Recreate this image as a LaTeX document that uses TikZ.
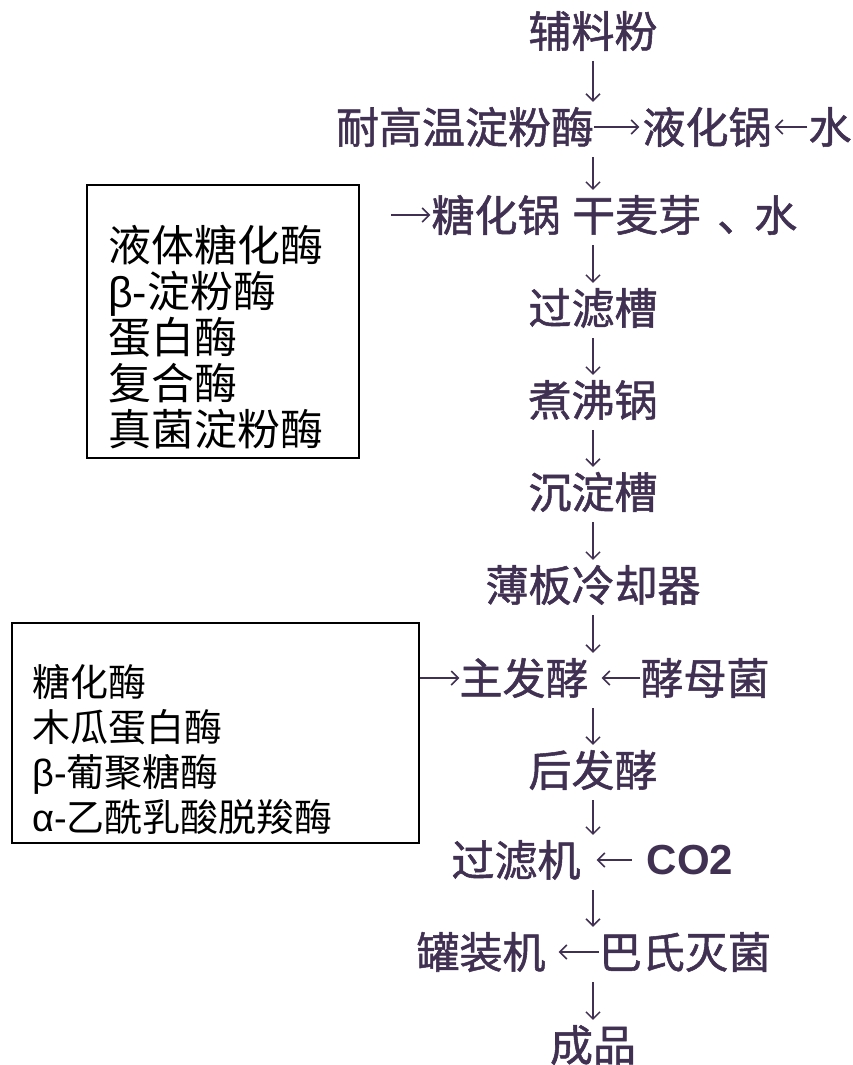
\documentclass[tikz,border=0pt]{standalone}
\usepackage{fontspec}
\setmainfont{Liberation Sans}
\newfontfamily\cjk{Noto Sans CJK SC}
\newfontfamily\cjkb[FakeBold=1.2]{Noto Sans CJK SC}
\usetikzlibrary{arrows.meta}
\definecolor{ink}{RGB}{64,48,82}
\begin{document}
\begin{tikzpicture}[x=1pt,y=-1pt,
  main/.style={inner sep=0pt,text=ink,font=\cjkb\fontsize{43}{46}\selectfont},
  latin/.style={inner sep=0pt,text=ink,font=\bfseries\fontsize{42}{46}\selectfont},
  boxframe/.style={draw=black,line width=1.6pt,inner sep=0pt},
  boxtext/.style={inner sep=0pt,anchor=west,align=left,text=black},
  arr/.style={draw=ink,line width=1.5pt,-{Straight Barb[length=7pt,width=14pt]}},
  varr/.style={arr,shorten <=10pt,shorten >=5pt}]
\useasboundingbox (0,0) rectangle (852,1065);
\fill[white] (0,0) rectangle (852,1065);
\coordinate (sp) at (593,0);
% spine rows
\node[main] (raw)  at (593,31)  {辅料粉};
\node[main] (enz)  at (465,127) {耐高温淀粉酶};
\node[main] (liq)  at (707,127) {液化锅};
\node[main] (w1)   at (830,127) {水};
\node[main] (sac)  at (496,215) {糖化锅};
\node[main,anchor=west] (malt) at (572,215) {干麦芽\hspace{16pt}、\hspace{-6pt}水};
\coordinate (sacin) at (391,215);
\node[main] (lau)  at (593,308) {过滤槽};
\node[main] (boil) at (593,400) {煮沸锅};
\node[main] (sed)  at (593,492) {沉淀槽};
\node[main] (cool) at (593,585) {薄板冷却器};
\node[main] (mf)   at (524,678) {主发酵};
\node[main] (yst)  at (705,678) {酵母菌};
\node[main] (sf)   at (593,770) {后发酵};
\node[main] (flt)  at (516,860) {过滤机};
\node[latin] (co2) at (690,860) {CO2};
\node[main] (can)  at (481,952) {罐装机};
\node[main] (past) at (685,952) {巴氏灭菌};
\node[main] (prod) at (593,1045) {成品};
% boxes
\node[boxframe,minimum width=272pt,minimum height=273pt] (box1) at (223,321.5) {};
\node[boxtext,font=\cjk\fontsize{43}{46}\selectfont] (b1t) at (108,337)
  {液体糖化酶\\{\fontspec{Liberation Sans}β-}淀粉酶\\蛋白酶\\复合酶\\真菌淀粉酶};
\node[boxframe,minimum width=407pt,minimum height=220pt] (box2) at (215.5,733) {};
\node[boxtext,font=\cjk\fontsize{38}{45}\selectfont] (b2t) at (32,750)
  {糖化酶\\木瓜蛋白酶\\{\fontspec{Liberation Sans}β-}葡聚糖酶\\{\fontspec{Liberation Sans}α-}乙酰乳酸脱羧酶};
% vertical flow
\draw[varr] (raw.south) -- (raw.south |- enz.north);
\draw[varr] (sp |- enz.south) -- (sp |- sac.north);
\draw[varr] (sp |- sac.south) -- (lau.north);
\draw[varr] (lau.south) -- (boil.north);
\draw[varr] (boil.south) -- (sed.north);
\draw[varr] (sed.south) -- (cool.north);
\draw[varr] (cool.south) -- (sp |- mf.north);
\draw[varr] (sp |- mf.south) -- (sf.north);
\draw[varr] (sf.south) -- (sp |- flt.north);
\draw[varr] (sp |- flt.south) -- (sp |- can.north);
\draw[varr] (sp |- can.south) -- (prod.north);
% horizontal inputs
\draw[arr,shorten >=3pt] (enz.east) -- (liq.west);
\draw[arr,shorten <=1pt,shorten >=3pt] (w1.west) -- (liq.east);
\draw[arr,shorten >=1pt] (sacin) -- (sac.west);
\draw[arr] (box2.east |- mf.west) -- (mf.west);
\draw[arr,shorten >=13pt] (yst.west) -- (mf.east);
\draw[arr,shorten <=15pt,shorten >=16pt] (co2.west) -- (flt.east);
\draw[arr,shorten >=13pt] (past.west) -- (can.east);
\end{tikzpicture}
\end{document}
